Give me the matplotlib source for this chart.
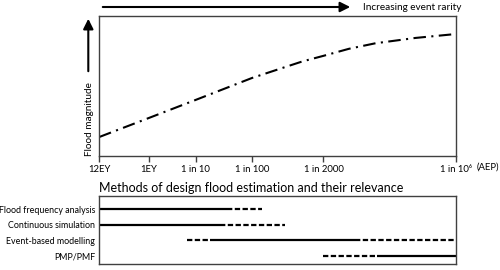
import matplotlib
matplotlib.use("Agg")
import matplotlib.pyplot as plt

plt.rcParams['font.family'] = ['Lato', 'DejaVu Sans']

# --- data ---
tick_pos = [0, 13.9, 27.1, 42.8, 62.9, 100]
tick_labels = ["12EY", "1EY", "1 in 10", "1 in 100", "1 in 2000", "1 in 10\u2076"]

curve_x = [0, 13.9, 27.1, 42.8, 51.0, 57.0, 62.9, 70.0, 77.5, 88.7, 100]
curve_y = [0.134, 0.27, 0.40, 0.556, 0.625, 0.675, 0.715, 0.765, 0.805, 0.843, 0.871]

methods = ["Flood frequency analysis", "Continuous simulation",
           "Event-based modelling", "PMP/PMF"]
# segments per method: (start, end, style)
segments = [
    [(0, 35.7, "solid"), (35.7, 45.7, "dashed")],
    [(0, 33.9, "solid"), (33.9, 52.1, "dashed")],
    [(24.5, 31.1, "dashed"), (31.1, 71.7, "solid"), (71.7, 100, "dashed")],
    [(62.9, 77.8, "dashed"), (77.8, 100, "solid")],
]

fig = plt.figure(figsize=(5, 2.7), dpi=100)
spine_c = '#404040'

ax = fig.add_axes([0.1986, 0.4233, 0.7128, 0.5174])
ax.plot(curve_x, curve_y, color='black', lw=1.5,
        linestyle=(0, (6, 2.6, 1, 2.6)), solid_capstyle='butt')
ax.set_xlim(0, 100)
ax.set_ylim(0, 1)
ax.set_xticks(tick_pos)
ax.set_xticklabels(tick_labels, fontsize=6.8)
ax.set_yticks([])
ax.tick_params(axis='x', length=4.5, width=1, color=spine_c, pad=2.5)
for s in ax.spines.values():
    s.set_color(spine_c)
    s.set_linewidth(1)

fig.text(488 / 500, 1 - 167 / 270, "(AEP)", fontsize=6.8, ha='center', va='center')

# arrows
fig.patches.append(matplotlib.patches.FancyArrowPatch(
    (100 / 500, 263 / 270), (353 / 500, 263 / 270), transform=fig.transFigure,
    arrowstyle='-|>,head_length=4,head_width=2', mutation_scale=1.5,
    lw=1.5, color='black'))
fig.patches.append(matplotlib.patches.FancyArrowPatch(
    (88.3 / 500, 196 / 270), (88.3 / 500, 254 / 270), transform=fig.transFigure,
    arrowstyle='-|>,head_length=4,head_width=2', mutation_scale=1.5,
    lw=1.5, color='black'))
fig.text(363 / 500, 263 / 270, "Increasing event rarity", fontsize=7.2,
         ha='left', va='center')
fig.text(89 / 500, 150.5 / 270, "Flood magnitude", fontsize=7.2,
         ha='center', va='center', rotation=90)

# bottom panel
bx = fig.add_axes([0.1986, 0.0222, 0.7128, 0.2519])
for i, segs in enumerate(segments):
    y = i + 1
    for (a, b, st) in segs:
        if st == "solid":
            bx.plot([a, b], [y, y], color='black', lw=1.6, solid_capstyle='butt')
        else:
            bx.plot([a, b], [y, y], color='black', lw=1.6,
                    linestyle=(0, (2.4, 1.1)), dash_capstyle='butt')
bx.set_xlim(0, 100)
bx.set_ylim(4.52, 0.16)
bx.set_xticks([])
bx.set_yticks(range(1, len(methods) + 1))
bx.set_yticklabels(methods, fontsize=6.4)
bx.tick_params(axis='y', length=0, pad=3)
for s in bx.spines.values():
    s.set_color(spine_c)
    s.set_linewidth(1)
bx.set_title("Methods of design flood estimation and their relevance",
             loc='left', fontsize=9.0, pad=3)

fig.savefig("out.png", dpi=100)
